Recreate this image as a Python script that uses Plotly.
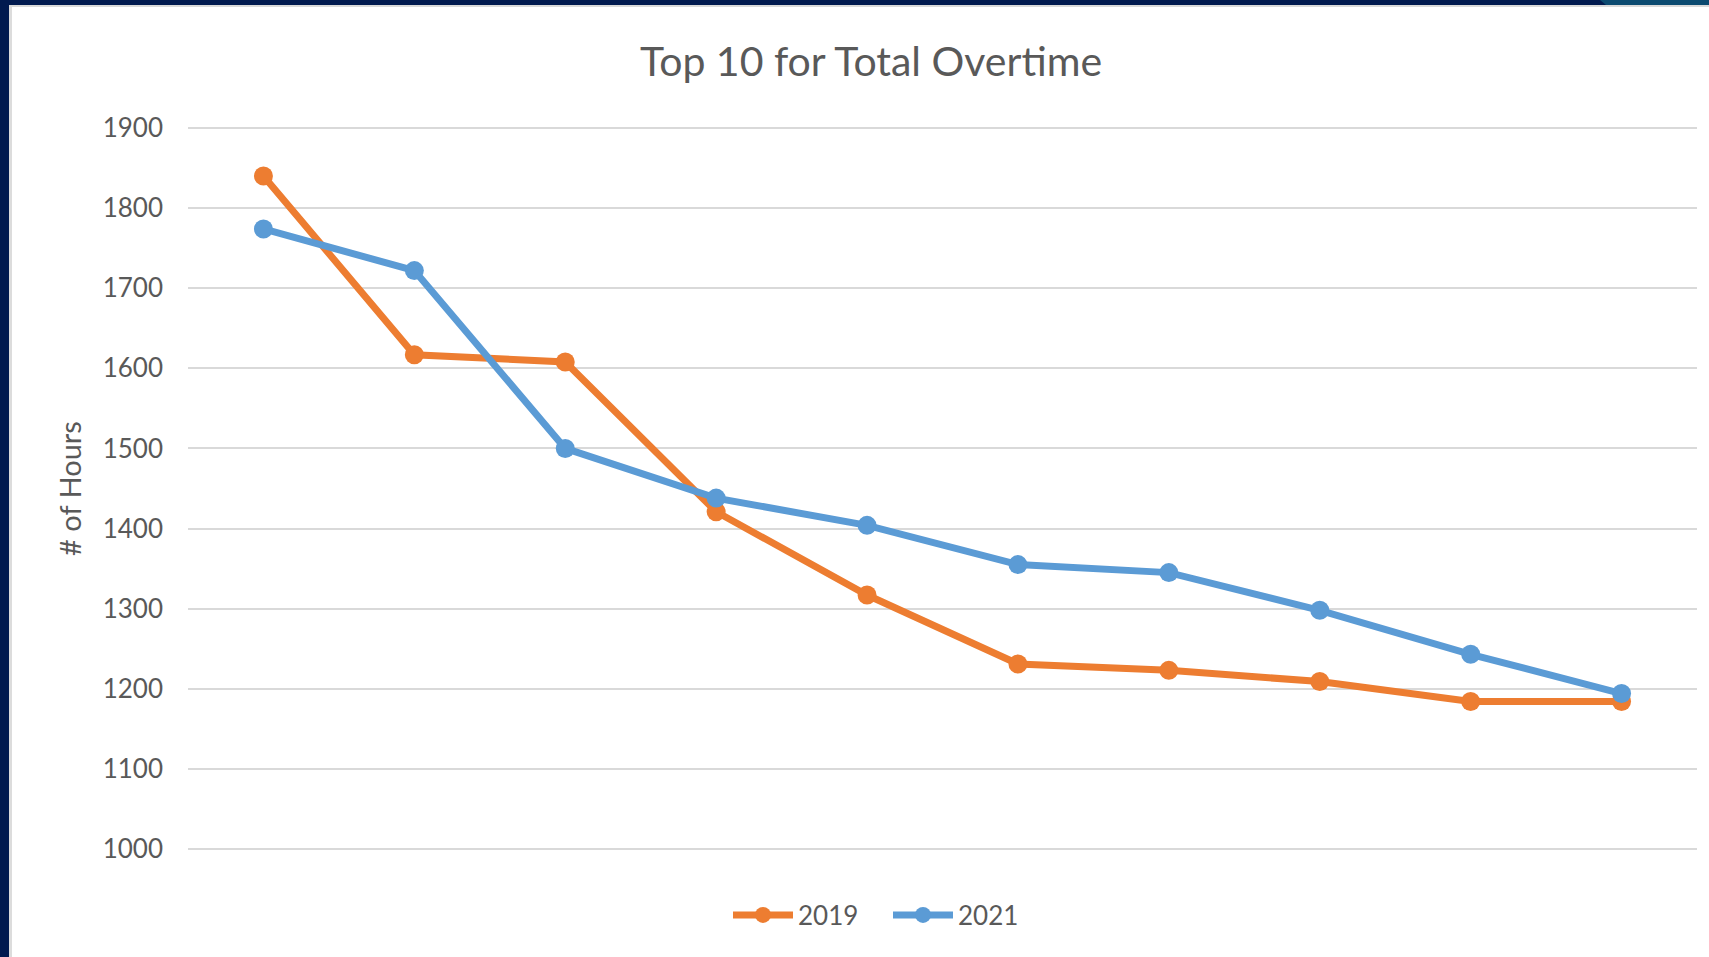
import plotly.graph_objects as go

categories = [str(i) for i in range(1, 11)]
hours_2019 = [1840, 1617, 1608, 1421, 1317, 1231, 1223, 1209, 1184, 1184]
hours_2021 = [1774, 1722, 1500, 1438, 1404, 1355, 1345, 1298, 1243, 1194]
tick_vals = list(range(1000, 2000, 100))

W, H = 1709, 957
L, R, T, B = 188, 12, 126, 106
PW, PH = W - L - R, H - T - B

def px(x):
    return (x - L) / PW

def py(y):
    return 1 - (y - T) / PH

ORANGE = "#ED7D31"
BLUE = "#5B9BD5"
TEXT = "#595959"
FONT = "Lato"

fig = go.Figure()
fig.add_trace(go.Scatter(x=categories, y=hours_2019, name="2019", mode="lines+markers",
                         line=dict(color=ORANGE, width=7), marker=dict(size=19, color=ORANGE)))
fig.add_trace(go.Scatter(x=categories, y=hours_2021, name="2021", mode="lines+markers",
                         line=dict(color=BLUE, width=7), marker=dict(size=19, color=BLUE)))

NAVY = "#011A4F"
shapes = [
    dict(type="rect", xref="paper", yref="paper", x0=px(0), x1=px(W), y0=py(0), y1=py(5),
         fillcolor=NAVY, line_width=0, layer="above"),
    dict(type="rect", xref="paper", yref="paper", x0=px(0), x1=px(W), y0=py(5), y1=py(7),
         fillcolor="#D9D9D9", line_width=0, layer="above"),
    dict(type="path", xref="paper", yref="paper",
         path=f"M {px(1600)} {py(0)} L {px(W)} {py(0)} L {px(W)} {py(5)} L {px(1606)} {py(5)} Z",
         fillcolor="#0B4A70", line_width=0, layer="above"),
    dict(type="rect", xref="paper", yref="paper", x0=px(0), x1=px(9), y0=py(0), y1=py(H),
         fillcolor=NAVY, line_width=0, layer="above"),
    dict(type="rect", xref="paper", yref="paper", x0=px(9), x1=px(12), y0=py(7), y1=py(H),
         fillcolor="#DCDCDC", line_width=0, layer="above"),
]

fig.update_layout(
    width=W, height=H,
    margin=dict(l=L, r=R, t=T, b=B),
    paper_bgcolor="white", plot_bgcolor="white",
    font=dict(family=FONT, color=TEXT, size=26),
    title=dict(text="Top 10 for Total Overtime", x=px(871), xref="paper", xanchor="center",
               y=1 - 62 / H, yanchor="middle", font=dict(size=41, color=TEXT, family=FONT)),
    xaxis=dict(range=[-0.5, 9.5], showticklabels=False, showgrid=False, zeroline=False,
               showline=False, ticks=""),
    yaxis=dict(range=[997.5, 1902.5], tickvals=tick_vals, showgrid=True, gridcolor="#D9D9D9",
               gridwidth=2, zeroline=False, showline=False, ticks="", ticklen=0,
               ticklabelstandoff=24,
               tickfont=dict(size=26, color=TEXT), title=dict(text="# of Hours",
               font=dict(size=29, color=TEXT), standoff=12)),
    legend=dict(orientation="h", x=px(888), xanchor="center", y=py(915), yanchor="middle",
                font=dict(size=26, color=TEXT), itemwidth=60, entrywidth=85,
                bgcolor="rgba(0,0,0,0)"),
    shapes=shapes,
    showlegend=True,
)

fig.write_html("out.html", config={"displayModeBar": False},
               post_script="document.body.style.margin='0';document.body.style.overflow='hidden';")
